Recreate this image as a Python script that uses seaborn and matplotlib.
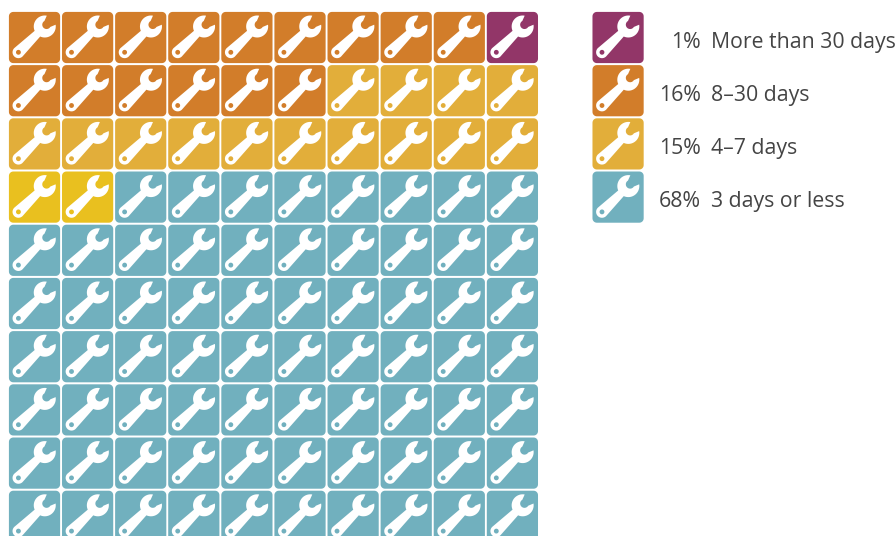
import numpy as np
import pandas as pd
import matplotlib.pyplot as plt
from matplotlib.path import Path
import seaborn as sns

# === Data ===
fill_groups = ["orange", "purple", "orange", "amber", "yellow", "blue"]
fill_counts = [9, 1, 6, 14, 2, 68]
legend_groups = ["purple", "orange", "amber", "blue"]
legend_shares = ["1%", "16%", "15%", "68%"]
legend_labels = ["More than 30 days", "8–30 days", "4–7 days", "3 days or less"]
palette = {
    "purple": "#923668",
    "orange": "#D27D2A",
    "amber": "#E2AE3A",
    "yellow": "#E9C01F",
    "blue": "#71B0BE",
}
n_cols = 10

# === Build tables ===
groups = np.repeat(fill_groups, fill_counts)
grid = pd.DataFrame({
    "col": np.arange(len(groups)) % n_cols,
    "row": np.arange(len(groups)) // n_cols,
    "group": groups,
})
legend = pd.DataFrame({
    "col": 10.99,
    "row": np.arange(len(legend_groups)),
    "group": legend_groups,
})


# === Marker shapes (tile half width = 1) ===
def rounded_square(r=0.17, n=8):
    pts = []
    for cx, cy, start in [(1 - r, 1 - r, 0), (-1 + r, 1 - r, 90), (-1 + r, -1 + r, 180), (1 - r, -1 + r, 270)]:
        a = np.radians(np.linspace(start, start + 90, n))
        pts += list(zip(cx + r * np.cos(a), cy + r * np.sin(a)))
    pts.append(pts[0])
    return Path(pts, closed=True)


def arc(cx, cy, r, a0, a1, n=24):
    a = np.radians(np.linspace(a0, a1, n))
    return np.c_[cx + r * np.cos(a), cy + r * np.sin(a)]


def wrench():
    # drawn along +x, turned to the diagonal afterwards
    length = 1.44
    head_r = 0.43
    tail_r = 0.23
    half_w = 0.155
    hole_r = 0.095
    phi = np.degrees(np.arcsin(half_w / head_r))
    outer = np.vstack([
        arc(-length, 0, tail_r, 90, 270),
        arc(0, 0, head_r, 180 + phi, 325),
        arc(0.10, 0, 0.17, 285, 75, 12),
        arc(0, 0, head_r, 35, 180 - phi),
    ])
    hole = arc(-length, 0, hole_r, 360, 0)
    t = np.radians(44.4)
    rot = np.array([[np.cos(t), -np.sin(t)], [np.sin(t), np.cos(t)]])
    shift = np.array([0.40, 0.43])
    outer = outer @ rot.T + shift
    hole = hole @ rot.T + shift
    verts = np.vstack([outer, outer[:1], hole, hole[:1]])
    codes = [Path.MOVETO] + [Path.LINETO] * (len(outer) - 1) + [Path.CLOSEPOLY]
    codes += [Path.MOVETO] + [Path.LINETO] * (len(hole) - 1) + [Path.CLOSEPOLY]
    return Path(verts, codes)


tile = rounded_square()
key = wrench()
tile_size = (25.6 * 2 * 0.72) ** 2
key_size = tile_size * np.abs(key.vertices).max() ** 2

# === Plot ===
fig = plt.figure(figsize=(8.96, 5.36), dpi=100)
ax = fig.add_axes([0, 0, 1, 1])
for df in [grid, legend]:
    sns.scatterplot(data=df, x="col", y="row", hue="group", palette=palette, marker=tile,
                    s=tile_size, linewidth=0, edgecolor="none", legend=False, ax=ax)
    sns.scatterplot(data=df, x="col", y="row", color="white", marker=key,
                    s=key_size, linewidth=0, edgecolor="none", legend=False, ax=ax)

for i, (share, label) in enumerate(zip(legend_shares, legend_labels)):
    ax.text(12.55, i + 0.085, share, ha="right", va="center", fontsize=15.3, family="Open Sans", color="#444444")
    ax.text(12.74, i + 0.085, label, ha="left", va="center", fontsize=15.3, family="Open Sans", color="#444444")

ax.set_xlim(-0.65, 16.224)
ax.set_ylim(9.37, -0.705)
ax.axis("off")
plt.savefig("out.png", dpi=100)
